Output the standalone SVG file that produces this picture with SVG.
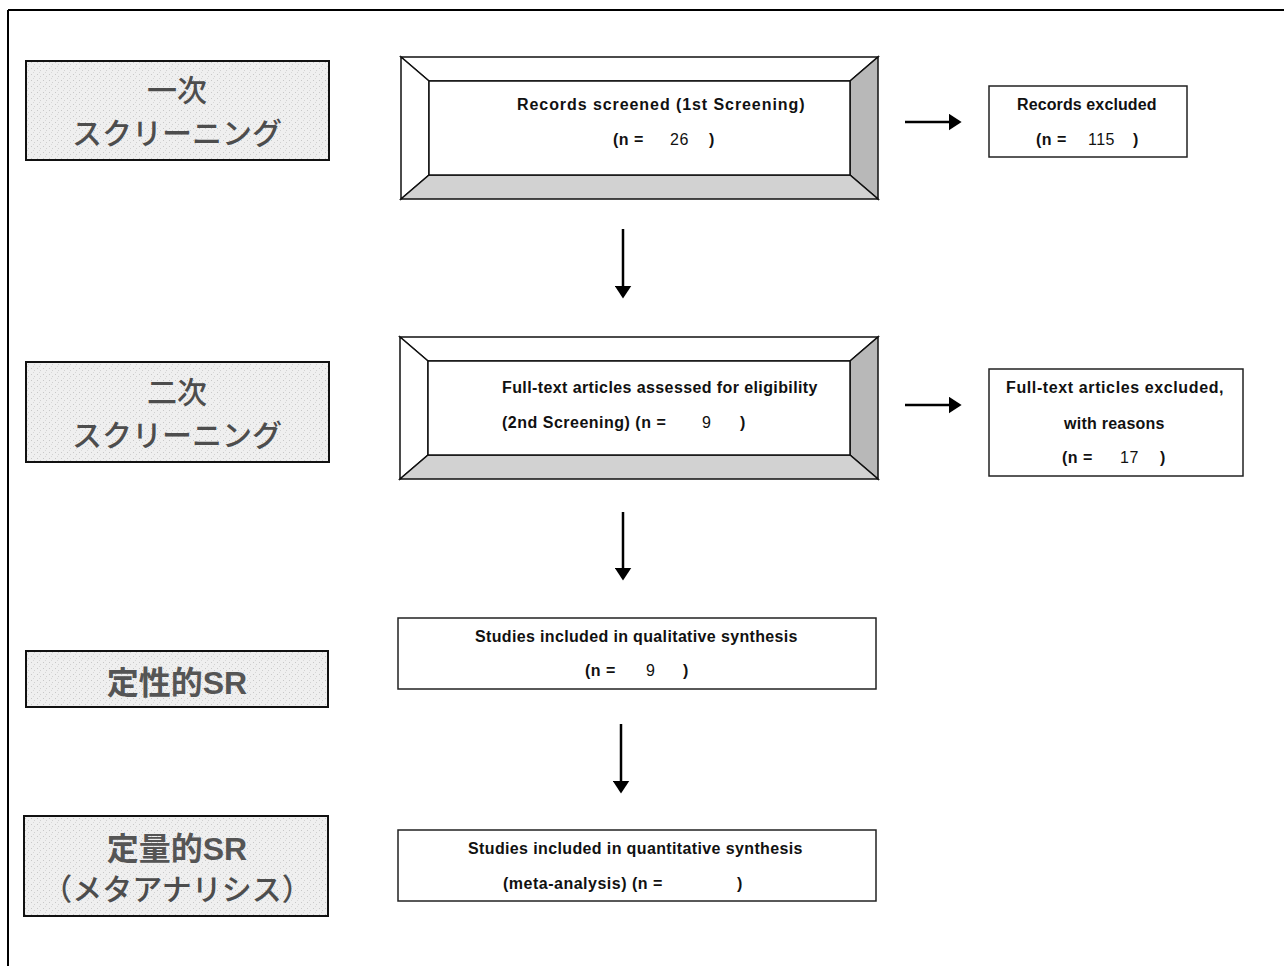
<svg xmlns="http://www.w3.org/2000/svg" width="1284" height="966" viewBox="0 0 1284 966">
<defs>
<pattern id="stip" width="6" height="6" patternUnits="userSpaceOnUse">
<rect width="6" height="6" fill="#efefef"/>
<rect x="1" y="2" width="1" height="1" fill="#c8c8c8"/>
<rect x="4" y="4" width="1" height="1" fill="#d0d0d0"/>
<rect x="3" y="0" width="1" height="1" fill="#d8d8d8"/>
</pattern>
<marker id="ah" viewBox="0 0 10 10" refX="8" refY="5" markerWidth="13" markerHeight="17" markerUnits="userSpaceOnUse" orient="auto" preserveAspectRatio="none">
<path d="M0,0 L10,5 L0,10 z" fill="#000"/>
</marker>
<style>
.lab{fill:url(#stip);stroke:#111;stroke-width:2}
.jp{font-family:"Noto Sans CJK JP","Liberation Sans",sans-serif;font-size:30px;font-weight:500;fill:#4d4d4d;text-anchor:middle}
.jpb{font-family:"Liberation Sans","Noto Sans CJK JP",sans-serif;font-size:32px;font-weight:bold;fill:#555;text-anchor:middle}
.box{fill:#fff;stroke:#222;stroke-width:1.5}
.bw{fill:#fff;stroke:#111;stroke-width:1.5;stroke-linejoin:miter}
.bg1{fill:#b8b8b8;stroke:#111;stroke-width:1.5}
.bg2{fill:#d2d2d2;stroke:#111;stroke-width:1.5}
.t{font-family:"Liberation Sans","Noto Sans CJK JP",sans-serif;font-size:16px;font-weight:bold;fill:#111;letter-spacing:0.5px}
.num{font-weight:normal}
.arr{stroke:#000;stroke-width:2.5;fill:none}
</style>
</defs>
<g id="frame">
<line x1="8" y1="10" x2="1284" y2="10" stroke="#000" stroke-width="2"/>
<line x1="8" y1="10" x2="8" y2="966" stroke="#000" stroke-width="2"/>
</g>
<g id="label-1">
<rect class="lab" x="26" y="61" width="303" height="99"/>
<text class="jp" x="177" y="101">一次</text>
<text class="jp" x="177" y="144">スクリーニング</text>
</g>
<g id="label-2">
<rect class="lab" x="26" y="362" width="303" height="100"/>
<text class="jp" x="177" y="403">二次</text>
<text class="jp" x="177" y="446">スクリーニング</text>
</g>
<g id="label-3">
<rect class="lab" x="26" y="651" width="302" height="56"/>
<text class="jpb" x="177" y="694">定性的SR</text>
</g>
<g id="label-4">
<rect class="lab" x="24" y="816" width="304" height="100"/>
<text class="jpb" x="177" y="860">定量的SR</text>
<text class="jp" x="177" y="900">（メタアナリシス）</text>
</g>
<g id="screened">
<polygon class="bw" points="401,57 878,57 850,81 429,81"/>
<polygon class="bw" points="401,57 429,81 429,175 401,199"/>
<polygon class="bg1" points="878,57 878,199 850,175 850,81"/>
<polygon class="bg2" points="401,199 878,199 850,175 429,175"/>
<rect x="429" y="81" width="421" height="94" fill="#fff" stroke="#111" stroke-width="1.5"/>
<text class="t" x="517" y="110" textLength="288">Records screened (1st Screening)</text>
<text class="t" y="145"><tspan x="613">(n =</tspan><tspan class="num" x="670">26</tspan><tspan x="709">)</tspan></text>
</g>
<g id="excluded">
<rect class="box" x="989" y="86" width="198" height="71"/>
<text class="t" x="1017" y="110" textLength="140">Records excluded</text>
<text class="t" y="145"><tspan x="1036">(n =</tspan><tspan class="num" x="1088">115</tspan><tspan x="1133">)</tspan></text>
</g>
<g id="fulltext">
<polygon class="bw" points="400,337 878,337 850,361 428,361"/>
<polygon class="bw" points="400,337 428,361 428,455 400,479"/>
<polygon class="bg1" points="878,337 878,479 850,455 850,361"/>
<polygon class="bg2" points="400,479 878,479 850,455 428,455"/>
<rect x="428" y="361" width="422" height="94" fill="#fff" stroke="#111" stroke-width="1.5"/>
<text class="t" x="502" y="393" textLength="316">Full-text articles assessed for eligibility</text>
<text class="t" y="428"><tspan x="502">(2nd Screening) (n =</tspan><tspan class="num" x="702">9</tspan><tspan x="740">)</tspan></text>
</g>
<g id="ft-excluded">
<rect class="box" x="989" y="369" width="254" height="107"/>
<text class="t" x="1006" y="393" textLength="218">Full-text articles excluded,</text>
<text class="t" x="1064" y="429" textLength="101">with reasons</text>
<text class="t" y="463"><tspan x="1062">(n =</tspan><tspan class="num" x="1120">17</tspan><tspan x="1160">)</tspan></text>
</g>
<g id="qualitative">
<rect class="box" x="398" y="618" width="478" height="71"/>
<text class="t" x="475" y="642" textLength="323">Studies included in qualitative synthesis</text>
<text class="t" y="676"><tspan x="585">(n =</tspan><tspan class="num" x="646">9</tspan><tspan x="683">)</tspan></text>
</g>
<g id="quantitative">
<rect class="box" x="398" y="830" width="478" height="71"/>
<text class="t" x="468" y="854" textLength="335">Studies included in quantitative synthesis</text>
<text class="t" y="889"><tspan x="503">(meta-analysis) (n =</tspan><tspan x="737">)</tspan></text>
</g>
<g id="connectors">
<line class="arr" x1="905" y1="122" x2="959" y2="122" marker-end="url(#ah)"/>
<line class="arr" x1="905" y1="405" x2="959" y2="405" marker-end="url(#ah)"/>
<line class="arr" x1="623" y1="229" x2="623" y2="296" marker-end="url(#ah)"/>
<line class="arr" x1="623" y1="512" x2="623" y2="578" marker-end="url(#ah)"/>
<line class="arr" x1="621" y1="724" x2="621" y2="791" marker-end="url(#ah)"/>
</g>
</svg>
